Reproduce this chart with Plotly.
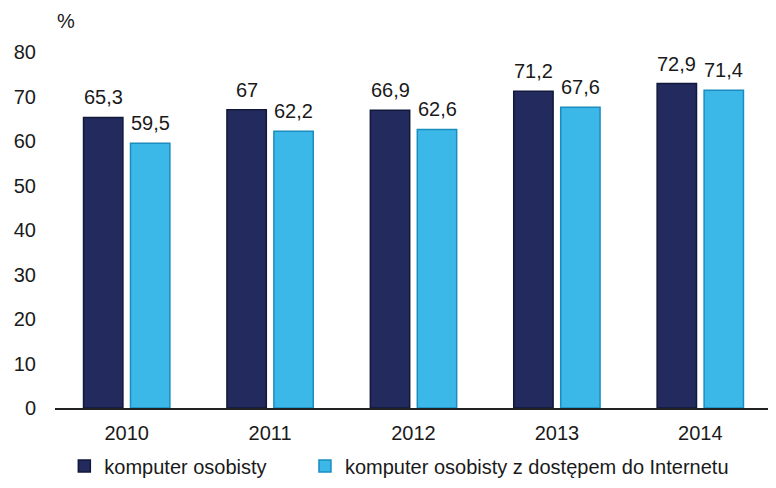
import plotly.graph_objects as go

years = ["2010", "2011", "2012", "2013", "2014"]
pc = [65.3, 67.0, 66.9, 71.2, 72.9]
pc_internet = [59.5, 62.2, 62.6, 67.6, 71.4]
series_names = ["komputer osobisty", "komputer osobisty z dostępem do Internetu"]
y_ticks = [0, 10, 20, 30, 40, 50, 60, 70, 80]


def fmt(v):
    s = ("%.1f" % v).rstrip("0").rstrip(".")
    return s.replace(".", ",")


FONT = "Liberation Sans, Arial, sans-serif"
FS = 20
TXT = "#1a1a1a"

fig = go.Figure()
fig.add_trace(go.Bar(
    x=years, y=pc, name=series_names[0] + "\u00a0" * 6,
    marker=dict(color="#222A5E", line=dict(color="#121839", width=1.5)),
))
fig.add_trace(go.Bar(
    x=years, y=pc_internet, name=series_names[1],
    marker=dict(color="#3CB8E8", line=dict(color="#1A8DBE", width=1.5)),
))

annotations = []
for series, shift in ((pc, -23.5), (pc_internet, 23.5)):
    for i, v in enumerate(series):
        annotations.append(dict(
            x=i, y=v, xref="x", yref="y", text=fmt(v), showarrow=False,
            xanchor="center", yanchor="bottom", xshift=shift, yshift=7,
            font=dict(size=FS, family=FONT, color=TXT)))
annotations.append(dict(text="%", xref="paper", yref="paper", x=0, y=1,
                        xanchor="left", yanchor="bottom", yshift=18, showarrow=False,
                        font=dict(size=FS, family=FONT, color=TXT)))

fig.update_layout(
    width=776, height=488,
    margin=dict(l=47, r=12, t=44, b=88, autoexpand=False),
    paper_bgcolor="white", plot_bgcolor="white",
    font=dict(family=FONT, size=FS, color=TXT),
    barmode="group", bargap=0.345, bargroupgap=0.162,
    showlegend=True,
    legend=dict(orientation="h", x=0.013, xanchor="left",
                yref="container", y=0.0615, yanchor="middle",
                font=dict(size=FS, family=FONT, color=TXT), itemwidth=30,
                traceorder="normal"),
    xaxis=dict(type="category", categoryorder="array", categoryarray=years,
               range=[-0.5, len(years) - 0.5], automargin=False,
               showline=True, linecolor="#222222", linewidth=2, ticks="",
               showgrid=False, ticklabelstandoff=6,
               tickfont=dict(size=FS, family=FONT, color=TXT)),
    yaxis=dict(range=[0, 80], tickvals=y_ticks, showgrid=False, zeroline=False,
               showline=False, ticks="", ticklabelstandoff=18, automargin=False,
               tickfont=dict(size=FS, family=FONT, color=TXT)),
    annotations=annotations,
)

fig.write_html("out.html")
